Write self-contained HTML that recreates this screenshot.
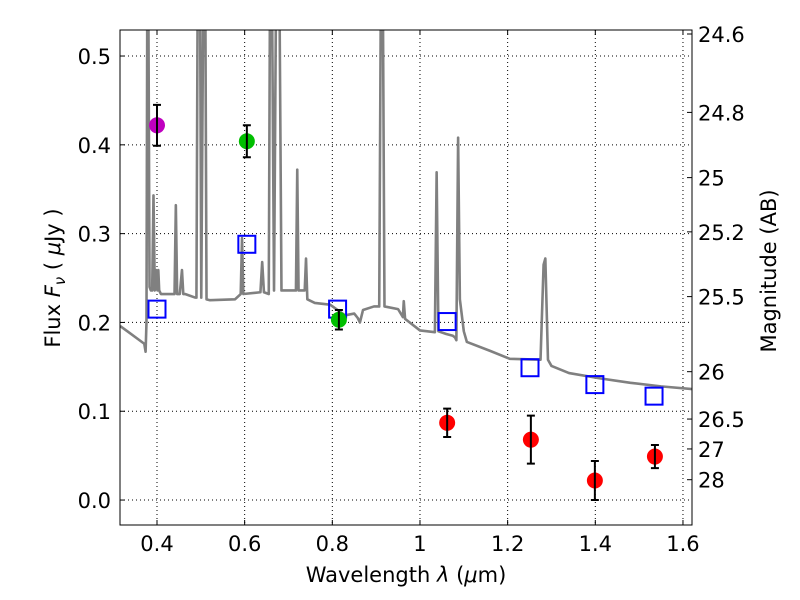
<!DOCTYPE html>
<html><head><meta charset="utf-8"><style>
body{margin:0;background:#fff;font-family:"Liberation Sans","DejaVu Sans",sans-serif}
svg text{font-family:"DejaVu Sans","Liberation Sans",sans-serif;font-size:21px;fill:#000}
</style></head><body>
<svg id="chart" width="800" height="600" xmlns="http://www.w3.org/2000/svg" style="position:absolute;left:0;top:0"></svg>
<script>
const specLam=[0.316,0.371,0.374,0.376,0.378,0.380,0.383,0.386,0.389,0.392,0.395,0.398,0.401,0.403,0.405,0.407,0.409,0.418,0.440,0.443,0.446,0.452,0.457,0.460,0.464,0.487,0.490,0.493,0.498,0.501,0.506,0.510,0.513,0.521,0.578,0.591,0.594,0.597,0.636,0.640,0.644,0.655,0.658,0.662,0.667,0.672,0.679,0.684,0.705,0.717,0.720,0.723,0.737,0.740,0.743,0.760,0.795,0.829,0.850,0.858,0.863,0.870,0.895,0.907,0.911,0.915,0.919,0.950,0.961,0.963,0.966,1.000,1.034,1.038,1.042,1.060,1.075,1.080,1.083,1.087,1.091,1.100,1.107,1.160,1.205,1.275,1.282,1.286,1.292,1.300,1.340,1.411,1.480,1.550,1.621];
const specFlux=[0.196,0.176,0.167,0.2,0.6,0.6,0.24,0.236,0.236,0.343,0.236,0.259,0.236,0.259,0.236,0.234,0.232,0.232,0.232,0.332,0.232,0.232,0.259,0.232,0.232,0.228,0.228,0.6,0.6,0.228,0.6,0.6,0.226,0.225,0.226,0.232,0.295,0.232,0.234,0.268,0.234,0.232,0.6,0.6,0.236,0.6,0.6,0.236,0.236,0.236,0.372,0.236,0.236,0.272,0.226,0.222,0.22,0.208,0.21,0.205,0.2,0.214,0.218,0.218,0.6,0.6,0.218,0.215,0.206,0.224,0.204,0.191,0.189,0.369,0.19,0.187,0.185,0.183,0.18,0.408,0.226,0.19,0.178,0.168,0.159,0.158,0.265,0.272,0.158,0.151,0.143,0.137,0.132,0.128,0.125];
const obsLam=[0.400,0.605,0.815,1.062,1.253,1.399,1.536];
const obsFlux=[0.422,0.404,0.203,0.087,0.068,0.022,0.049];
const obsErr=[0.023,0.018,0.011,0.016,0.027,0.022,0.013];
const obsColor=["#bf00bf","#00bf00","#00bf00","#ff0000","#ff0000","#ff0000","#ff0000"];
const modelLam=[0.400,0.605,0.812,1.062,1.251,1.399,1.534];
const modelFlux=[0.215,0.288,0.215,0.201,0.149,0.130,0.117];
const xTicks=[0.4,0.6,0.8,1.0,1.2,1.4,1.6];
const xTickLabels=["0.4","0.6","0.8","1","1.2","1.4","1.6"];
const yTicks=[0,0.1,0.2,0.3,0.4,0.5];
const yTickLabels=["0.0","0.1","0.2","0.3","0.4","0.5"];
const magTicks=[24.6,24.8,25,25.2,25.5,26,26.5,27,28];
const magTickLabels=["24.6","24.8","25","25.2","25.5","26","26.5","27","28"];

const L=120,R=692,T=30,B=525;
const xmin=0.3156,xmax=1.6206,ymin=-0.0281,ymax=0.5293;
const X=v=>L+(v-xmin)/(xmax-xmin)*(R-L);
const Y=v=>B-(v-ymin)/(ymax-ymin)*(B-T);
const NS="http://www.w3.org/2000/svg";
const svg=document.getElementById('chart');
function mk(t,a,p){const e=document.createElementNS(NS,t);for(const k in a)e.setAttribute(k,a[k]);(p||svg).appendChild(e);return e;}
const defs=mk('defs',{});const cp=mk('clipPath',{id:'c'},defs);mk('rect',{x:L,y:T,width:R-L,height:B-T},cp);
xTicks.forEach((v,i)=>{
 const g=mk('line',{x1:X(v),x2:X(v),y1:T,y2:B,stroke:'#000','stroke-width':1,'stroke-dasharray':'1,3'});
 
 
 mk('line',{x1:X(v),x2:X(v),y1:B,y2:B-5,stroke:'#000'});mk('line',{x1:X(v),x2:X(v),y1:T,y2:T+5,stroke:'#000'});
 const t=mk('text',{x:X(v),y:B+26,'text-anchor':'middle'});t.textContent=xTickLabels[i];
 
 
});
yTicks.forEach((v,i)=>{
 const g=mk('line',{x1:L,x2:R,y1:Y(v),y2:Y(v),stroke:'#000','stroke-width':1,'stroke-dasharray':'1,3'});
 
 
 mk('line',{x1:L,x2:L+5,y1:Y(v),y2:Y(v),stroke:'#000'});
 const t=mk('text',{x:L-9,y:Y(v)+8,'text-anchor':'end'});t.textContent=yTickLabels[i];
 
 
});
magTicks.forEach((m,i)=>{
 const f=Math.pow(10,(23.9-m)/2.5);const y=Y(f);
 mk('line',{x1:R,x2:R-5,y1:y,y2:y,stroke:'#000'});
 const t=mk('text',{x:R+6,y:y+8});t.textContent=magTickLabels[i];
 
 
});
const gp=mk('g',{'clip-path':'url(#c)'});
const pl=mk('polyline',{points:specLam.map((l,i)=>X(l)+','+Y(specFlux[i])).join(' '),fill:'none',stroke:'#808080','stroke-width':2.6,'stroke-linejoin':'round'},gp);


modelLam.forEach((l,i)=>{
 const r=mk('rect',{x:X(l)-8.5,y:Y(modelFlux[i])-8.5,width:17,height:17,fill:'none',stroke:'#0000ff','stroke-width':2});
 
 
});
obsLam.forEach((l,i)=>{
 const x=X(l),y1=Y(obsFlux[i]+obsErr[i]),y2=Y(obsFlux[i]-obsErr[i]);
 const c=mk('circle',{cx:x,cy:Y(obsFlux[i]),r:8,fill:obsColor[i]});
 
 
 const e=mk('path',{d:`M${x},${y1}V${y2}M${x-4},${y1}H${x+4}M${x-4},${y2}H${x+4}`,stroke:'#000','stroke-width':2,fill:'none'});
 
 
});
const fr=mk('rect',{x:L,y:T,width:R-L,height:B-T,fill:'none',stroke:'#000','stroke-width':1});


</script>
<svg style="position:absolute;left:0;top:0" width="800" height="600">
<text x="406" y="582" text-anchor="middle" style="font-family:'DejaVu Sans',sans-serif;font-size:21px">Wavelength  <tspan font-style="italic">λ</tspan> (<tspan font-style="italic">μ</tspan>m)</text>
<text transform="translate(60,278) rotate(-90)" text-anchor="middle" style="font-family:'DejaVu Sans',sans-serif;font-size:21px">Flux  <tspan font-style="italic">F</tspan><tspan font-style="italic" font-size="15" dy="5">ν</tspan><tspan dy="-5">  ( </tspan><tspan font-style="italic">μ</tspan>Jy )</text>
<text transform="translate(776,271) rotate(-90)" text-anchor="middle" style="font-family:'DejaVu Sans',sans-serif;font-size:21px">Magnitude (AB)</text>
</svg>
</body></html>
